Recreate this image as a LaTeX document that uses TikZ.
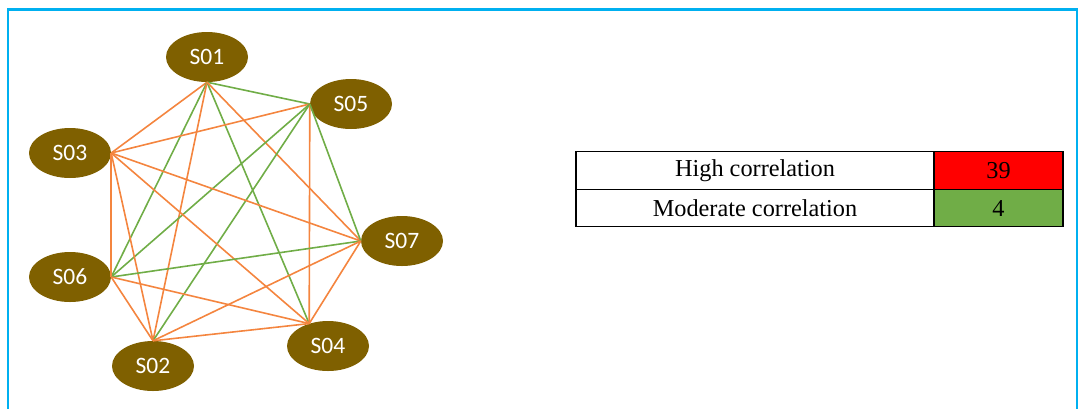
\documentclass[tikz,border=0pt]{standalone}
\usepackage{fontspec}
\setmainfont{Liberation Serif}
\newfontfamily\nodefont{Carlito}
\usetikzlibrary{shapes.geometric}
\definecolor{frameblue}{HTML}{00B0F0}
\definecolor{nodebrown}{HTML}{7F6000}
\definecolor{edgeorange}{HTML}{F4853F}
\definecolor{edgegreen}{HTML}{70AD47}
\definecolor{cellred}{HTML}{FF0000}
\definecolor{cellgreen}{HTML}{70AD47}
\tikzset{
  snode/.style={ellipse, fill=nodebrown, draw=none, minimum width=82pt, minimum height=50pt, inner sep=0pt, text=white, font=\nodefont\fontsize{23.5}{26}\selectfont},
  hi/.style={draw=edgeorange, line width=1.6pt},
  mod/.style={draw=edgegreen, line width=1.6pt},
  cell/.style={rectangle, draw=black, line width=1.2pt, inner sep=0pt, minimum height=37.5pt, font=\fontsize{24.3}{26}\selectfont},
}
\begin{document}
\begin{tikzpicture}[x=1pt,y=-1pt]
\useasboundingbox (0,0) rectangle (1083,408);
\draw[frameblue, line width=2.6pt] (8,410) -- (8,9.5) -- (1077,9.5) -- (1077,410);
% nodes
\node[snode] (S01) at (207,57) {S01};
\node[snode] (S05) at (351,104) {S05};
\node[snode] (S03) at (70,153) {S03};
\node[snode] (S07) at (402,241) {S07};
\node[snode] (S06) at (70,277) {S06};
\node[snode] (S02) at (153,366) {S02};
\node[snode] (S04) at (328,346) {S04};
\coordinate (a1) at (S01.south);
\coordinate (a5) at (S05.west);
\coordinate (a3) at (S03.east);
\coordinate (a7) at (S07.west);
\coordinate (a6) at (S06.east);
\coordinate (a2) at (S02.north);
\coordinate (a4) at (S04.130);
% edges
\draw[mod] (a1) -- (a5);
\draw[hi] (a1) -- (a3);
\draw[mod] (a1) -- (a6);
\draw[hi] (a1) -- (a2);
\draw[mod] (a1) -- (a4);
\draw[hi] (a1) -- (a7);
\draw[hi] (a5) -- (a3);
\draw[mod] (a5) -- (a6);
\draw[mod] (a5) -- (a2);
\draw[hi] (a5) -- (a4);
\draw[mod] (a5) -- (a7);
\draw[hi] (a3) -- (a6);
\draw[hi] (a3) -- (a2);
\draw[hi] (a3) -- (a4);
\draw[hi] (a3) -- (a7);
\draw[mod] (a6) -- (a7);
\draw[hi] (a6) -- (a2);
\draw[hi] (a6) -- (a4);
\draw[hi] (a2) -- (a7);
\draw[hi] (a2) -- (a4);
\draw[hi] (a7) -- (a4);
% table
\node[cell, minimum width=358pt] (h1) at (755,170.5) {High correlation};
\node[cell, minimum width=129pt, fill=cellred] (h2) at (998.5,170.5) {39};
\node[cell, minimum width=358pt] (m1) at (755,208) {Moderate correlation};
\node[cell, minimum width=129pt, fill=cellgreen] (m2) at (998.5,208) {4};
\end{tikzpicture}
\end{document}
